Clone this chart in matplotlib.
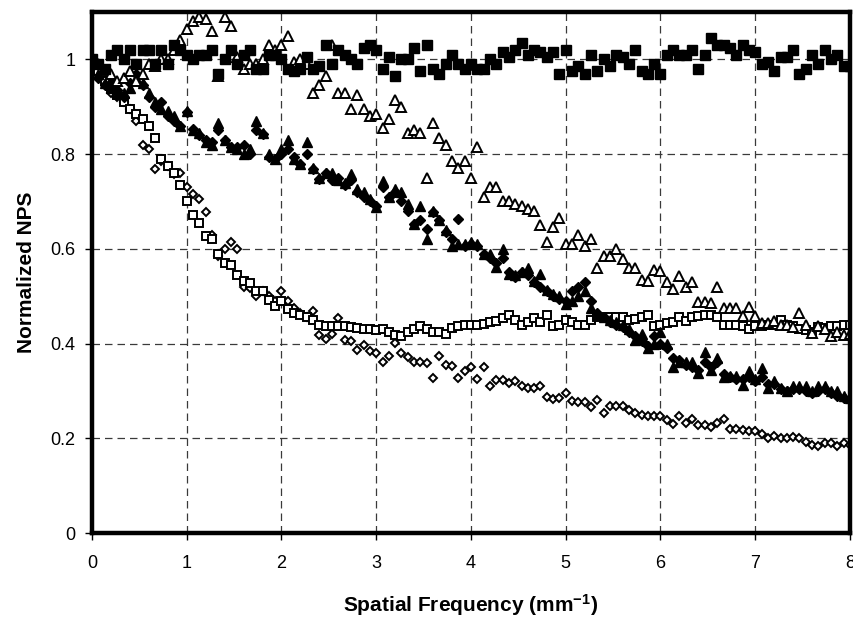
import numpy as np
import matplotlib
matplotlib.use("Agg")
import matplotlib.pyplot as plt
from matplotlib import font_manager

OUT_PATH = "out.png"

# frequency axis, one sample every 1/15 mm^-1
freq = np.arange(121) / 15.0

filled_sq = [
    1.00, 0.99, 0.98, 1.01, 1.02, 1.00, 1.02, 0.99, 1.02, 1.02, 0.99, 1.02, 0.99, 1.03, 1.02,
    1.01, 1.00, 1.01, 1.01, 1.02, 0.97, 1.00, 1.02, 0.99, 1.01, 1.02, 0.98, 0.98, 1.01, 1.01,
    1.00, 0.98, 0.975, 0.98, 1.005, 0.98, 0.985, 1.03, 0.99, 1.02, 1.01, 1.00, 0.99, 1.025, 1.03,
    1.02, 0.98, 1.005, 0.965, 1.00, 1.00, 1.025, 0.975, 1.03, 0.98, 0.97, 0.99, 1.01, 0.99, 0.98,
    0.99, 0.98, 0.98, 1.00, 0.99, 1.015, 1.005, 1.02, 1.035, 1.01, 1.02, 1.015, 1.005, 1.015, 0.97,
    1.02, 0.975, 0.985, 0.97, 1.01, 0.975, 1.00, 0.985, 1.01, 1.005, 0.99, 1.02, 0.975, 0.97, 0.99,
    0.97, 1.01, 1.02, 1.01, 1.01, 1.02, 0.98, 1.01, 1.045, 1.03, 1.03, 1.025, 1.01, 1.03, 1.02,
    1.015, 0.99, 0.995, 0.975, 1.005, 1.005, 1.02, 0.97, 0.98, 1.01, 0.99, 1.02, 1.00, 1.01, 0.985,
    0.985,
]

open_tri = [
    1.00, 0.99, 0.975, 0.97, 0.955, 0.96, 0.975, 0.955, 0.97, 0.99, 0.985, 1.00, 1.00, 1.02, 1.04,
    1.065, 1.08, 1.09, 1.085, 1.06, 0.965, 1.09, 1.07, 1.005, 0.98, 0.99, 0.99, 1.00, 1.03, 1.02,
    1.03, 1.05, 0.995, 1.00, 0.99, 0.93, 0.945, 0.965, 1.03, 0.93, 0.93, 0.895, 0.925, 0.895, 0.88,
    0.885, 0.855, 0.875, 0.915, 0.90, 0.845, 0.85, 0.845, 0.75, 0.865, 0.835, 0.82, 0.785, 0.77, 0.785,
    0.75, 0.815, 0.71, 0.73, 0.73, 0.70, 0.70, 0.695, 0.69, 0.685, 0.68, 0.65, 0.615, 0.645, 0.665,
    0.61, 0.61, 0.63, 0.605, 0.62, 0.56, 0.585, 0.585, 0.60, 0.578, 0.56, 0.56, 0.535, 0.533, 0.555,
    0.553, 0.53, 0.516, 0.542, 0.52, 0.53, 0.487, 0.487, 0.486, 0.52, 0.474, 0.474, 0.474, 0.459, 0.478,
    0.458, 0.444, 0.444, 0.447, 0.44, 0.44, 0.435, 0.465, 0.44, 0.423, 0.437, 0.43, 0.415, 0.425, 0.417,
    0.42,
]

filled_tri = [
    1.00, 0.97, 0.95, 0.94, 0.93, 0.93, 0.94, 0.96, 0.95, 0.93, 0.91, 0.895, 0.89, 0.88, 0.86,
    0.89, 0.85, 0.845, 0.825, 0.82, 0.865, 0.83, 0.815, 0.81, 0.80, 0.81, 0.87, 0.845, 0.80, 0.79,
    0.81, 0.83, 0.79, 0.78, 0.825, 0.77, 0.75, 0.76, 0.76, 0.745, 0.74, 0.757, 0.726, 0.72, 0.705,
    0.688, 0.743, 0.71, 0.726, 0.72, 0.694, 0.652, 0.69, 0.62, 0.68, 0.66, 0.64, 0.605, 0.61, 0.61,
    0.614, 0.61, 0.588, 0.59, 0.561, 0.60, 0.546, 0.545, 0.55, 0.56, 0.531, 0.546, 0.514, 0.504, 0.50,
    0.483, 0.49, 0.50, 0.51, 0.476, 0.462, 0.455, 0.45, 0.445, 0.44, 0.43, 0.408, 0.42, 0.39, 0.40,
    0.425, 0.398, 0.351, 0.36, 0.362, 0.36, 0.338, 0.383, 0.345, 0.37, 0.33, 0.332, 0.332, 0.313, 0.341,
    0.325, 0.348, 0.307, 0.32, 0.307, 0.30, 0.31, 0.31, 0.31, 0.30, 0.31, 0.31, 0.30, 0.30, 0.29,
    0.285,
]

filled_dia = [
    0.99, 0.96, 0.945, 0.95, 0.935, 0.92, 0.95, 0.97, 0.945, 0.92, 0.90, 0.91, 0.88, 0.87, 0.86,
    0.888, 0.853, 0.84, 0.83, 0.825, 0.85, 0.83, 0.815, 0.815, 0.82, 0.80, 0.85, 0.842, 0.793, 0.79,
    0.80, 0.81, 0.793, 0.779, 0.80, 0.768, 0.747, 0.76, 0.745, 0.75, 0.735, 0.745, 0.72, 0.71, 0.70,
    0.69, 0.73, 0.71, 0.72, 0.70, 0.68, 0.652, 0.66, 0.641, 0.677, 0.66, 0.635, 0.62, 0.662, 0.605,
    0.61, 0.605, 0.59, 0.58, 0.57, 0.58, 0.55, 0.54, 0.55, 0.545, 0.53, 0.52, 0.51, 0.50, 0.495,
    0.49, 0.51, 0.52, 0.53, 0.49, 0.465, 0.455, 0.445, 0.44, 0.435, 0.425, 0.415, 0.405, 0.395, 0.415,
    0.40, 0.39, 0.37, 0.365, 0.355, 0.35, 0.345, 0.36, 0.35, 0.36, 0.335, 0.33, 0.325, 0.325, 0.33,
    0.32, 0.33, 0.315, 0.315, 0.305, 0.30, 0.305, 0.305, 0.30, 0.295, 0.30, 0.305, 0.295, 0.29, 0.285,
    0.28,
]

open_sq = [
    1.00, 0.975, 0.955, 0.94, 0.925, 0.91, 0.895, 0.885, 0.875, 0.86, 0.835, 0.79, 0.775, 0.76, 0.735,
    0.70, 0.672, 0.655, 0.627, 0.62, 0.59, 0.571, 0.565, 0.545, 0.532, 0.527, 0.51, 0.51, 0.492, 0.48,
    0.49, 0.472, 0.465, 0.46, 0.457, 0.45, 0.44, 0.438, 0.437, 0.437, 0.436, 0.434, 0.432, 0.43, 0.43,
    0.428, 0.43, 0.425, 0.419, 0.415, 0.425, 0.43, 0.436, 0.43, 0.425, 0.425, 0.42, 0.432, 0.436, 0.44,
    0.44, 0.44, 0.442, 0.445, 0.448, 0.453, 0.46, 0.45, 0.44, 0.445, 0.453, 0.445, 0.461, 0.438, 0.44,
    0.45, 0.445, 0.44, 0.44, 0.45, 0.455, 0.455, 0.457, 0.455, 0.455, 0.45, 0.452, 0.455, 0.46, 0.436,
    0.44, 0.443, 0.445, 0.455, 0.448, 0.455, 0.458, 0.461, 0.46, 0.455, 0.44, 0.44, 0.44, 0.438, 0.43,
    0.436, 0.438, 0.44, 0.44, 0.45, 0.44, 0.436, 0.43, 0.428, 0.425, 0.435, 0.432, 0.436, 0.438, 0.44,
    0.44,
]

open_dia = [
    1.00, 0.97, 0.955, 0.93, 0.92, 0.91, 0.895, 0.87, 0.82, 0.81, 0.768, 0.785, 0.775, 0.757, 0.76,
    0.73, 0.715, 0.705, 0.677, 0.63, 0.584, 0.60, 0.614, 0.60, 0.52, 0.518, 0.50, 0.51, 0.50, 0.49,
    0.51, 0.49, 0.475, 0.465, 0.455, 0.468, 0.419, 0.41, 0.42, 0.453, 0.408, 0.405, 0.387, 0.396, 0.385,
    0.38, 0.362, 0.373, 0.402, 0.38, 0.372, 0.36, 0.36, 0.358, 0.327, 0.373, 0.355, 0.352, 0.328, 0.342,
    0.35, 0.325, 0.35, 0.31, 0.322, 0.322, 0.316, 0.32, 0.31, 0.306, 0.306, 0.31, 0.288, 0.283, 0.285,
    0.295, 0.279, 0.277, 0.277, 0.266, 0.28, 0.253, 0.268, 0.268, 0.268, 0.26, 0.253, 0.25, 0.248, 0.246,
    0.246, 0.238, 0.231, 0.246, 0.233, 0.24, 0.227, 0.227, 0.223, 0.232, 0.24, 0.22, 0.22, 0.218, 0.216,
    0.215, 0.21, 0.20, 0.205, 0.20, 0.20, 0.203, 0.20, 0.192, 0.186, 0.183, 0.19, 0.19, 0.183, 0.19,
    0.185,
]

x_ticks = [0, 1, 2, 3, 4, 5, 6, 7, 8]
y_ticks = [0, 0.2, 0.4, 0.6, 0.8, 1.0]
y_tick_labels = ["0", "0.2", "0.4", "0.6", "0.8", "1"]


def pick_font() -> str:
    names = {f.name for f in font_manager.fontManager.ttflist}
    for name in ("Liberation Sans Narrow", "Liberation Sans", "DejaVu Sans"):
        if name in names:
            return name
    return "DejaVu Sans"


def main() -> None:
    font = pick_font()
    plt.rcParams["font.family"] = [font, "DejaVu Sans"]
    plt.rcParams["mathtext.fontset"] = "custom"
    plt.rcParams["mathtext.rm"] = font + ":bold"
    plt.rcParams["mathtext.it"] = font + ":bold"
    plt.rcParams["mathtext.bf"] = font + ":bold"

    fig = plt.figure(figsize=(8.54, 6.21), dpi=100)
    ax = fig.add_axes([0.1077, 0.1417, 0.8876, 0.839])

    ax.grid(True, color="#3a3a3a", linestyle=(0, (6, 4)), linewidth=0.9)
    ax.set_axisbelow(True)

    ms = 6.6
    mew = 1.4
    ax.plot(freq, open_dia, linestyle="none", marker="D", markersize=ms * 0.68,
            markerfacecolor="white", markeredgecolor="black", markeredgewidth=mew)
    ax.plot(freq, open_sq, linestyle="none", marker="s", markersize=ms * 0.95,
            markerfacecolor="white", markeredgecolor="black", markeredgewidth=mew)
    ax.plot(freq, filled_dia, linestyle="none", marker="D", markersize=ms * 0.82,
            color="black")
    ax.plot(freq, filled_tri, linestyle="none", marker="^", markersize=ms * 1.1,
            color="black")
    ax.plot(freq, open_tri, linestyle="none", marker="^", markersize=ms * 1.05,
            markerfacecolor="white", markeredgecolor="black", markeredgewidth=mew)
    ax.plot(freq, filled_sq, linestyle="none", marker="s", markersize=ms,
            color="black")

    ax.set_xlim(0, 8)
    ax.set_ylim(0, 1.1)
    ax.set_xticks(x_ticks)
    ax.set_xticklabels([str(v) for v in x_ticks])
    ax.set_yticks(y_ticks)
    ax.set_yticklabels(y_tick_labels)
    ax.tick_params(axis="both", direction="out", length=5, width=1, labelsize=13,
                   colors="black")
    ax.tick_params(axis="x", pad=11)
    ax.tick_params(axis="y", pad=7)

    for side in ("left", "right", "top", "bottom"):
        ax.spines[side].set_linewidth(3.2)
        ax.spines[side].set_color("black")

    ax.set_xlabel(r"Spatial Frequency (mm$^{-1}$)", fontsize=15, fontweight="bold",
                  labelpad=14)
    ax.set_ylabel("Normalized NPS", fontsize=15, fontweight="bold", labelpad=10)

    fig.savefig(OUT_PATH, dpi=100)
    plt.close(fig)


if __name__ == "__main__":
    main()
